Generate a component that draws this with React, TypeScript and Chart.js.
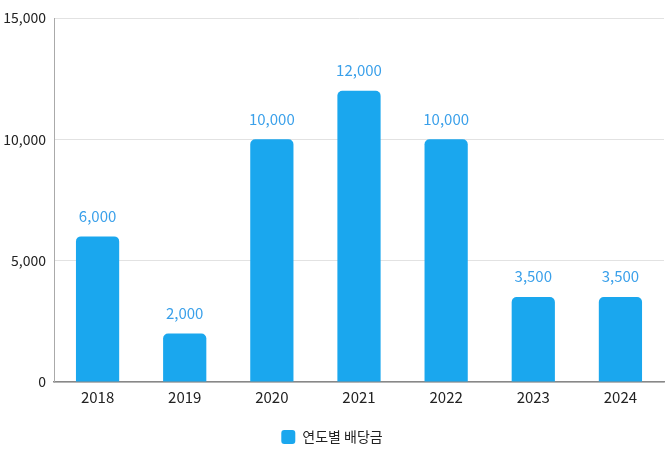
import React, { useRef, useEffect } from 'react';
import Chart from 'chart.js/auto';

const years = ['2018', '2019', '2020', '2021', '2022', '2023', '2024'];
const dividends = [6000, 2000, 10000, 12000, 10000, 3500, 3500];
const yTicks = [0, 5000, 10000, 15000];
const seriesName = '연도별 배당금';

const FONT = "'Noto Sans CJK KR', 'Noto Sans', sans-serif";

const valueLabels = {
    id: 'valueLabels',
    afterDatasetsDraw(chart: any) {
        const ctx = chart.ctx;
        const meta = chart.getDatasetMeta(0);
        ctx.save();
        ctx.font = `15px ${FONT}`;
        ctx.fillStyle = '#3aa0ea';
        ctx.textAlign = 'center';
        ctx.textBaseline = 'bottom';
        meta.data.forEach((bar: any, i: number) => {
            ctx.fillText(dividends[i].toLocaleString('en-US'), bar.x, bar.y - 13);
        });
        ctx.restore();
    },
};

const App: React.FC = () => {
    const chartRef = useRef<HTMLCanvasElement>(null);
    const chartInstanceRef = useRef<Chart | null>(null);

    useEffect(() => {
        document.body.style.margin = '0';
        if (!chartRef.current) return;
        const ctx = chartRef.current.getContext('2d');
        if (!ctx) return;
        if (chartInstanceRef.current) chartInstanceRef.current.destroy();

        chartInstanceRef.current = new Chart(ctx, {
            type: 'bar',
            data: {
                labels: years,
                datasets: [{
                    label: seriesName,
                    data: dividends,
                    backgroundColor: '#1aa7ee',
                    borderRadius: { topLeft: 5, topRight: 5, bottomLeft: 0, bottomRight: 0 },
                    borderSkipped: 'bottom',
                    barPercentage: 0.62,
                    categoryPercentage: 0.8,
                }]
            },
            options: {
                responsive: true,
                maintainAspectRatio: false,
                animation: false,
                layout: { padding: { top: 18, right: 6, left: 0, bottom: -4 } },
                plugins: {
                    legend: {
                        position: 'bottom',
                        labels: {
                            boxWidth: 14,
                            boxHeight: 14,
                            useBorderRadius: true,
                            borderRadius: 3,
                            color: '#222',
                            font: { family: FONT, size: 14 },
                            padding: 11,
                        },
                    },
                    tooltip: { enabled: false },
                },
                scales: {
                    x: {
                        grid: { display: false },
                        border: { color: '#888', width: 1.5 },
                        ticks: { color: '#222', font: { family: FONT, size: 15 }, padding: -2 },
                        afterFit: (axis: any) => { axis.height += 15; },
                    },
                    y: {
                        min: 0,
                        max: 15000,
                        afterBuildTicks: (axis: any) => {
                            axis.ticks = yTicks.map((v) => ({ value: v }));
                        },
                        afterFit: (axis: any) => { axis.width = 54; },
                        grid: { color: '#e2e2e2', lineWidth: 1, drawTicks: false },
                        border: { color: '#aaa', width: 1 },
                        ticks: {
                            color: '#222',
                            font: { family: FONT, size: 14 },
                            padding: 8,
                            callback: (v: any) => Number(v).toLocaleString('en-US'),
                        },
                    },
                },
            },
            plugins: [valueLabels],
        });

        return () => {
            if (chartInstanceRef.current) chartInstanceRef.current.destroy();
        };
    }, []);

    return (
        <div style={{ width: 670, height: 450, position: 'relative' }}>
            <canvas ref={chartRef}></canvas>
        </div>
    );
};

export default App;
